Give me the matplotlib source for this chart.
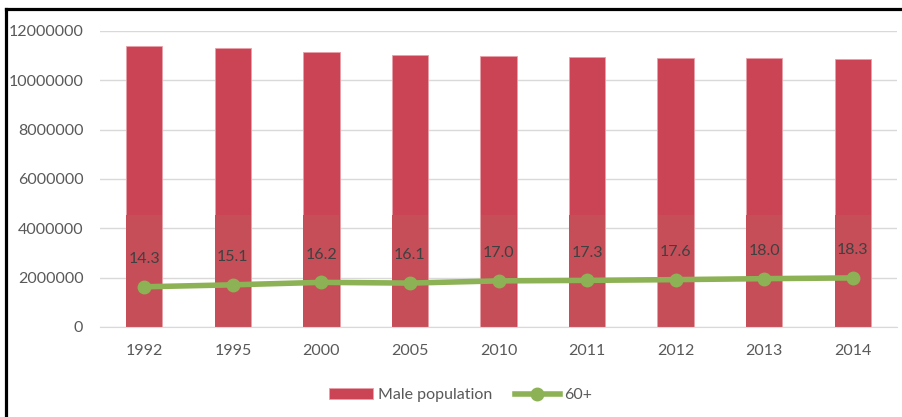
import matplotlib
matplotlib.use("Agg")
import matplotlib.pyplot as plt
from matplotlib.lines import Line2D

plt.rcParams['font.family'] = ['Lato', 'DejaVu Sans']

# data
years = ['1992', '1995', '2000', '2005', '2010', '2011', '2012', '2013', '2014']
male_population = [11390000, 11320000, 11160000, 11040000, 10990000, 10950000, 10920000, 10910000, 10880000]
aged_60_plus = [1630000, 1710000, 1810000, 1780000, 1870000, 1890000, 1920000, 1960000, 1990000]
pct_labels = ['14.3', '15.1', '16.2', '16.1', '17.0', '17.3', '17.6', '18.0', '18.3']

bar_color = '#CB4456'
lower_shade = '#C54E58'
line_color = '#8DB255'
text_color = '#595959'

fig = plt.figure(figsize=(9.03, 4.17), dpi=100)
ax = fig.add_axes([100 / 903, 1 - 327 / 417, 797 / 903, 296 / 417])

x = list(range(len(years)))
bars = ax.bar(x, male_population, width=0.41, color=bar_color, edgecolor='#E8A0A8', linewidth=0.6,
              zorder=2)
# the lower part of the bars looks a bit duller in the original picture
ax.bar(x, [min(v, 4540000) for v in male_population], width=0.405, color=lower_shade,
       linewidth=0, zorder=2)

line, = ax.plot(x, aged_60_plus, color=line_color, linewidth=4, marker='o', markersize=9,
                zorder=3)
for i, lab in enumerate(pct_labels):
    ax.annotate(lab, (x[i], aged_60_plus[i]), xytext=(0, 20), textcoords='offset points',
                ha='center', va='center', fontsize=11.5, color='#404040', zorder=4)

ax.set_xlim(-0.5, len(years) - 0.5)
ax.set_ylim(0, 12000000)
ax.set_yticks(range(0, 12000001, 2000000))
ax.set_yticklabels([str(v) for v in range(0, 12000001, 2000000)])
ax.set_xticks(x)
ax.set_xticklabels(years)
ax.tick_params(axis='both', length=0, labelsize=11.5, labelcolor=text_color)
ax.tick_params(axis='y', pad=12)
ax.tick_params(axis='x', pad=12)
ax.grid(axis='y', color='#D9D9D9', linewidth=1, zorder=0)
ax.set_axisbelow(True)
for side in ['top', 'right', 'left']:
    ax.spines[side].set_visible(False)
ax.spines['bottom'].set_color('#D9D9D9')

fig.legend([bars, line], ['Male population', '60+'], loc='center',
           bbox_to_anchor=(0.51, 1 - 395 / 417), ncol=2, frameon=False, fontsize=11.5,
           labelcolor=text_color, handlelength=2.8, columnspacing=1.4, handletextpad=0.3)

# black frame on the left and top edges of the picture
fig.add_artist(Line2D([6 / 903, 6 / 903], [0, 1 - 9 / 417], color='black', linewidth=2.3))
fig.add_artist(Line2D([6 / 903, 1], [1 - 9 / 417, 1 - 9 / 417], color='black', linewidth=2.3))

fig.savefig('out.png', dpi=100)
